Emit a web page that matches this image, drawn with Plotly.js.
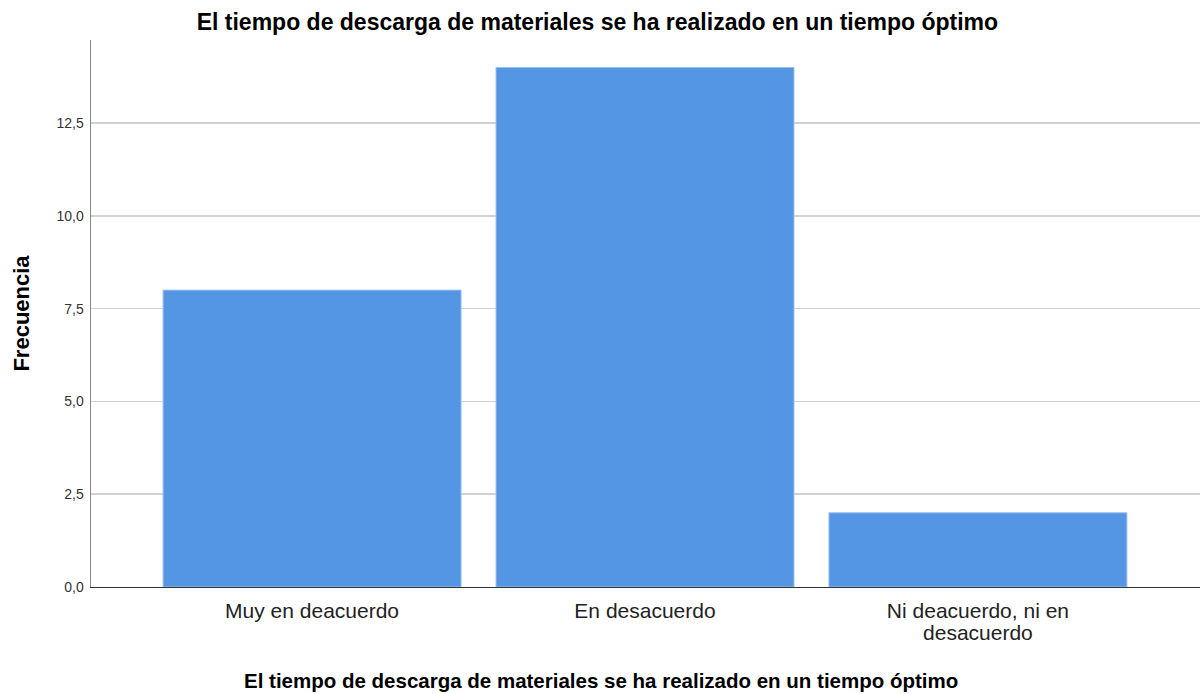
<!DOCTYPE html>
<html>
<head>
<meta charset="utf-8">
<script src="https://cdn.plot.ly/plotly-3.0.1.min.js"></script>
<style>html,body{margin:0;padding:0;background:#fff;}#chart{width:1202px;height:694px;}</style>
</head>
<body>
<div id="chart"></div>
<script>
const categories = ["Muy en deacuerdo", "En desacuerdo", "Ni deacuerdo, ni en<br>desacuerdo"];
const frecuencia = [8, 14, 2];
const yTicks = [0, 2.5, 5, 7.5, 10, 12.5];
const chartTitle = "El tiempo de descarga de materiales se ha realizado en un tiempo óptimo";
const xAxisTitle = "El tiempo de descarga de materiales se ha realizado en un tiempo óptimo";

const trace = {
  type: "bar",
  x: [0, 1, 2],
  y: frecuencia,
  width: 0.895,
  marker: {color: "#5596E4", line: {color: "#9cc0ee", width: 1}},
  hoverinfo: "skip"
};

const tickText = categories.map(c => c.split("<br>").map(s => '<span style="font-size:21px">' + s + '</span>').join("<br>"));

const layout = {
  width: 1202, height: 694,
  margin: {l: 91, r: 2, t: 40, b: 107},
  paper_bgcolor: "#ffffff", plot_bgcolor: "#ffffff",
  separators: ", ",
  showlegend: false,
  title: {text: chartTitle, x: 0.497, xanchor: "center", y: 0.968, yanchor: "middle",
    font: {family: "Arial, Liberation Sans", size: 23, color: "#000", weight: "bold"}},
  xaxis: {
    range: [-0.664, 2.667],
    tickvals: [0, 1, 2], ticktext: tickText,
    ticks: "outside", ticklen: 9, tickcolor: "rgba(0,0,0,0)",
    tickfont: {family: "Arial, Liberation Sans", size: 17, color: "#222"},
    showline: true, linecolor: "#333", linewidth: 1.2,
    showgrid: false, zeroline: false,
    automargin: false
  },
  yaxis: {
    range: [0, 14.74],
    tickvals: yTicks, tickformat: ".1f",
    ticks: "outside", ticklen: 3, tickcolor: "rgba(0,0,0,0)",
    tickfont: {family: "Arial, Liberation Sans", size: 14, color: "#333"},
    showline: true, linecolor: "#888", linewidth: 1.5,
    showgrid: true, gridcolor: "#d2d2d2", gridwidth: 1.5,
    zeroline: false,
    title: {text: "Frecuencia", standoff: 21,
      font: {family: "Arial, Liberation Sans", size: 22, color: "#000", weight: "bold"}},
    automargin: false
  },
  annotations: [{
    text: xAxisTitle, xref: "paper", yref: "paper",
    x: (601 - 91) / 1109, y: -0.171, xanchor: "center", yanchor: "middle",
    showarrow: false,
    font: {family: "Arial, Liberation Sans", size: 20.5, color: "#000", weight: "bold"}
  }]
};

Plotly.newPlot("chart", [trace], layout, {displayModeBar: false, staticPlot: true});
</script>
</body>
</html>
